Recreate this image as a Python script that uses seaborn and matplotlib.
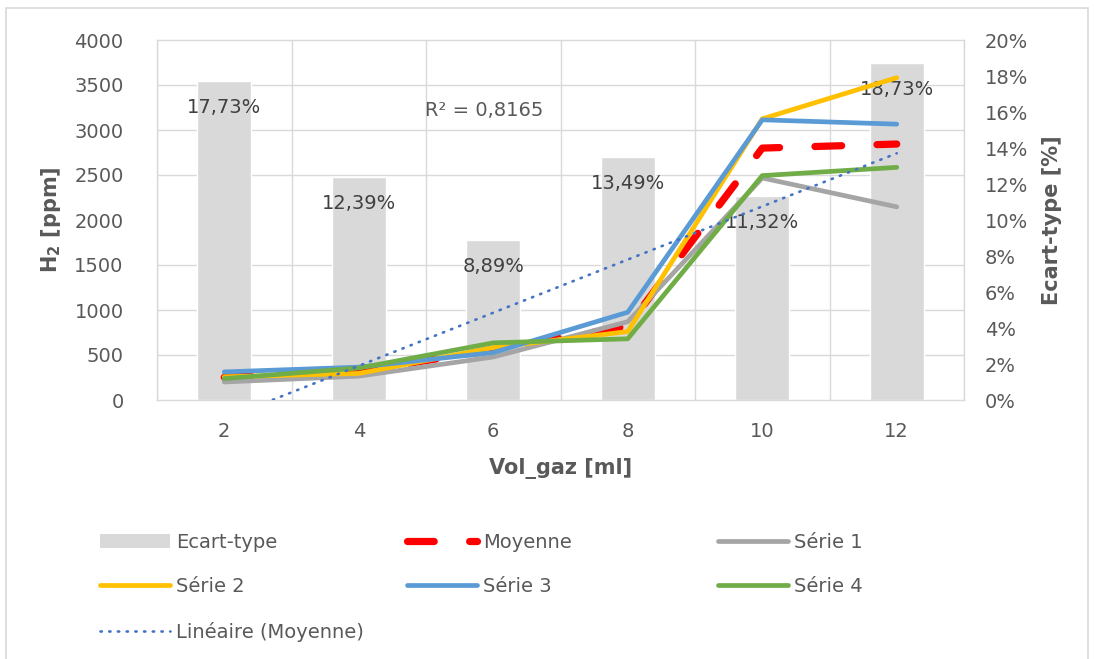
import numpy as np
import pandas as pd
import matplotlib
matplotlib.use("Agg")
import matplotlib.pyplot as plt
import seaborn as sns
from matplotlib.patches import Rectangle, Patch
from matplotlib.lines import Line2D

# ---------------- data ----------------
vol = ["2", "4", "6", "8", "10", "12"]
ecart_type = [17.73, 12.39, 8.89, 13.49, 11.32, 18.73]
moyenne = [252, 320, 555, 821, 2799, 2844]
serie1 = [200, 265, 478, 870, 2467, 2146]
serie2 = [258, 295, 582, 760, 3124, 3581]
serie3 = [312, 365, 527, 975, 3113, 3065]
serie4 = [238, 355, 635, 680, 2493, 2585]
r2_text = "R² = 0,8165"
left_ticks = [0, 500, 1000, 1500, 2000, 2500, 3000, 3500, 4000]
right_ticks = [0, 2, 4, 6, 8, 10, 12, 14, 16, 18, 20]

# ---------------- style ----------------
TXT = "#595959"
sns.set_theme(style="white")
plt.rcParams['font.family'] = ['DejaVu Sans']
FS = 14

W, H = 1094, 659
fig = plt.figure(figsize=(W / 100, H / 100), dpi=100)
fig.patch.set_facecolor("white")
fig.patches.append(Rectangle((6 / W, -0.01), (1088 - 6) / W, (H - 8) / H + 0.01,
                             transform=fig.transFigure, fill=False,
                             edgecolor="#D9D9D9", lw=1.2))

ax = fig.add_axes([157 / W, 1 - 400 / H, (964 - 157) / W, 360 / H])
pos = np.arange(len(vol))

# bars (secondary scale, drawn underneath)
df_bar = pd.DataFrame({"vol": vol, "ecart": ecart_type})
sns.barplot(data=df_bar, x="vol", y="ecart", color="#D9D9D9", width=0.4,
            saturation=1, ax=ax, zorder=2)
ax.set_ylim(0, 20)
ax.set_xlim(-0.5, 5.5)
labels = [f"{v:.2f}%".replace(".", ",") for v in ecart_type]
ax.bar_label(ax.containers[0], labels=labels, padding=-26, fontsize=FS, color="#404040")

# grid
ax.set_axisbelow(True)
ax.set_yticks(np.arange(0, 20.01, 2.5), minor=True)
ax.set_xticks(np.arange(-0.5, 5.6, 1), minor=True)
ax.grid(which="minor", color="#D9D9D9", lw=1)
ax.grid(which="major", visible=False)
for s in ax.spines.values():
    s.set_color("#D9D9D9")
    s.set_linewidth(1)

ax.set_xticks(pos)
ax.set_xticklabels(vol)
ax.tick_params(axis="x", which="both", length=0, pad=16, labelsize=FS, labelcolor=TXT)
ax.set_xlabel("Vol_gaz [ml]", fontsize=15, fontweight="bold", color=TXT, labelpad=12)

# lines (primary scale)
ax2 = ax.twinx()

# percent axis on the right, ppm axis on the left
ax.yaxis.tick_right()
ax.yaxis.set_label_position("right")
ax.set_yticks(right_ticks)
ax.set_yticklabels([f"{t}%" for t in right_ticks])
ax.tick_params(axis="y", which="both", length=0, pad=15, labelsize=FS, labelcolor=TXT)
ax.set_ylabel("Ecart-type [%]", fontsize=15, fontweight="bold", color=TXT, labelpad=10)

ax2.set_ylim(0, 4000)
ax2.yaxis.tick_left()
ax2.yaxis.set_label_position("left")
ax2.set_yticks(left_ticks)
ax2.tick_params(axis="y", length=0, pad=24, labelsize=FS, labelcolor=TXT)
for s in ax2.spines.values():
    s.set_visible(False)
ax2.set_ylabel(r"$\mathbf{H_2}$ [ppm]", fontsize=15, fontweight="bold", color=TXT, labelpad=8)

moy_style = dict(color="#FF0000", lw=5.2, linestyle=(0, (3.7, 4.9)), dash_capstyle="round")
sns.lineplot(x=pos, y=moyenne, ax=ax2, **moy_style)
series_cols = ["#A5A5A5", "#FFC000", "#5B9BD5", "#70AD47"]
for ys, c in zip([serie1, serie2, serie3, serie4], series_cols):
    sns.lineplot(x=pos, y=ys, ax=ax2, color=c, lw=3.4, solid_capstyle="round",
                 solid_joinstyle="round")

# linear trend of Moyenne
coef = np.polyfit(pos, moyenne, 1)
trend = np.polyval(coef, pos)
lin_style = dict(color="#4472C4", lw=1.9, linestyle=(0, (0.5, 2.8)), dash_capstyle="round")
sns.lineplot(x=pos, y=trend, ax=ax2, **lin_style)
ax2.set_xlim(-0.5, 5.5)
ax2.set_ylim(0, 4000)
ax2.text(1.93, 3222, r2_text, ha="center", va="center", fontsize=FS, color=TXT)

# legend (three fixed-width columns)
h_bar = Patch(facecolor="#D9D9D9", edgecolor="none")
h_moy = Line2D([], [], **moy_style)
hs = [Line2D([], [], color=c, lw=3.4, solid_capstyle="round") for c in series_cols]
h_lin = Line2D([], [], **lin_style)
cols = [
    (100, [h_bar, hs[1], h_lin], ["Ecart-type", "Série 2", "Linéaire (Moyenne)"]),
    (407, [h_moy, hs[2]], ["Moyenne", "Série 3"]),
    (718, [hs[0], hs[3]], ["Série 1", "Série 4"]),
]
for x0, hh, ll in cols:
    leg = fig.legend(hh, ll, loc="upper left", bbox_to_anchor=(x0 / W, 1 - 533 / H),
                     frameon=False, fontsize=FS, handlelength=3.6, handletextpad=0.3,
                     labelspacing=1.3, borderpad=0, borderaxespad=0)
    for t in leg.get_texts():
        t.set_color(TXT)

fig.savefig("out.png", dpi=100, facecolor="white")
